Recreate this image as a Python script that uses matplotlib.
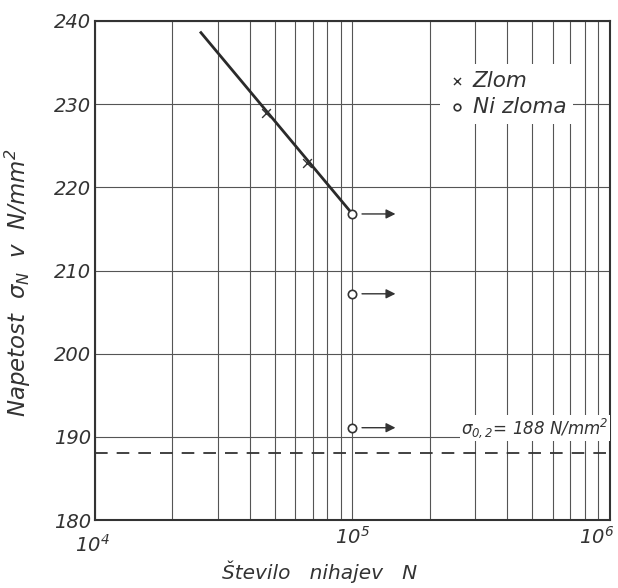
import matplotlib.pyplot as plt
import numpy as np
from matplotlib.ticker import LogLocator, LogFormatterMathtext, NullFormatter
from matplotlib.transforms import ScaledTranslation

# data
fracture_N = [46000, 66500]
fracture_S = [228.9, 222.9]
runout_N = [1e5, 1e5, 1e5]
runout_S = [216.8, 207.2, 191.1]
fit_N = [25800, 1e5]
fit_S = [238.6, 216.8]
yield_S = 188
x_ticks = [1e4, 1e5, 1e6]
y_ticks = [180, 190, 200, 210, 220, 230, 240]

plt.rcParams['font.family'] = 'DejaVu Sans'
plt.rcParams['font.style'] = 'italic'
plt.rcParams['mathtext.fontset'] = 'dejavusans'
plt.rcParams['mathtext.default'] = 'it'

ink = '#333333'

fig = plt.figure(figsize=(6.18, 5.88), dpi=100)
ax = fig.add_axes([0.1537, 0.1156, 0.833, 0.8487])

ax.set_xscale('log')
ax.set_xlim(1e4, 1e6)
ax.set_ylim(180, 240)

# grid
ax.set_xticks(x_ticks)
ax.xaxis.set_minor_locator(LogLocator(base=10, subs=np.arange(2, 10), numticks=20))
ax.xaxis.set_major_formatter(LogFormatterMathtext())
ax.xaxis.set_minor_formatter(NullFormatter())
ax.set_yticks(y_ticks)
ax.grid(True, which='both', color='#555555', lw=0.8)
ax.tick_params(which='both', length=0, labelsize=14, colors=ink)
ax.tick_params(axis='x', pad=4)
ax.tick_params(axis='y', pad=3)
for sp in ax.spines.values():
    sp.set_linewidth(1.5)
    sp.set_color(ink)

# fit line and points
ax.plot(fit_N, fit_S, color='#2a2a2a', lw=2.0, zorder=3)
ax.scatter(fracture_N, fracture_S, marker='x', s=40, color=ink, lw=1.0,
           zorder=4, label='Zlom')
ax.scatter(runout_N, runout_S, marker='o', s=36, facecolor='white',
           edgecolor=ink, lw=1.2, zorder=4, label='Ni zloma')

# run-out arrows
for s in runout_S:
    ax.annotate('', xy=(1.47e5, s), xytext=(1.09e5, s),
                arrowprops=dict(arrowstyle='-|>', color=ink, lw=1.0,
                                mutation_scale=14, shrinkA=0, shrinkB=0))

# yield line
ax.axhline(yield_S, color=ink, lw=1.3, ls=(0, (7, 5)), zorder=3)
ax.text(9.9e5, 191.1, r'$\sigma_{0,2}$= 188 N/mm$^2$', ha='right', va='center',
        fontsize=12, color=ink, zorder=5,
        bbox=dict(facecolor='white', edgecolor='none', pad=1))

leg = ax.legend(loc='upper left', bbox_to_anchor=(0.65, 0.935), frameon=True,
                fancybox=False, edgecolor='none', facecolor='white', framealpha=1,
                fontsize=15.5, handletextpad=0.3, handlelength=0.9,
                borderpad=0.3, labelspacing=0.3, markerscale=0.8)
for t in leg.get_texts():
    t.set_color(ink)

ax.set_ylabel(r'Napetost  $\sigma_N$  v  N/mm$^2$', fontsize=16.5, color=ink)
ax.yaxis.set_label_coords(-0.12, 0.475)
ax.set_xlabel('Število   nihajev   N', fontsize=14.5, color=ink)
ax.xaxis.set_label_coords(0.437, -0.082)

xlabels = ax.get_xticklabels()
xlabels[0].set_transform(xlabels[0].get_transform() +
                         ScaledTranslation(-0.03, -0.08, fig.dpi_scale_trans))
xlabels[-1].set_ha('right')
xlabels[-1].set_transform(xlabels[-1].get_transform() +
                          ScaledTranslation(0.04, 0, fig.dpi_scale_trans))

fig.savefig('out.png', dpi=100)
